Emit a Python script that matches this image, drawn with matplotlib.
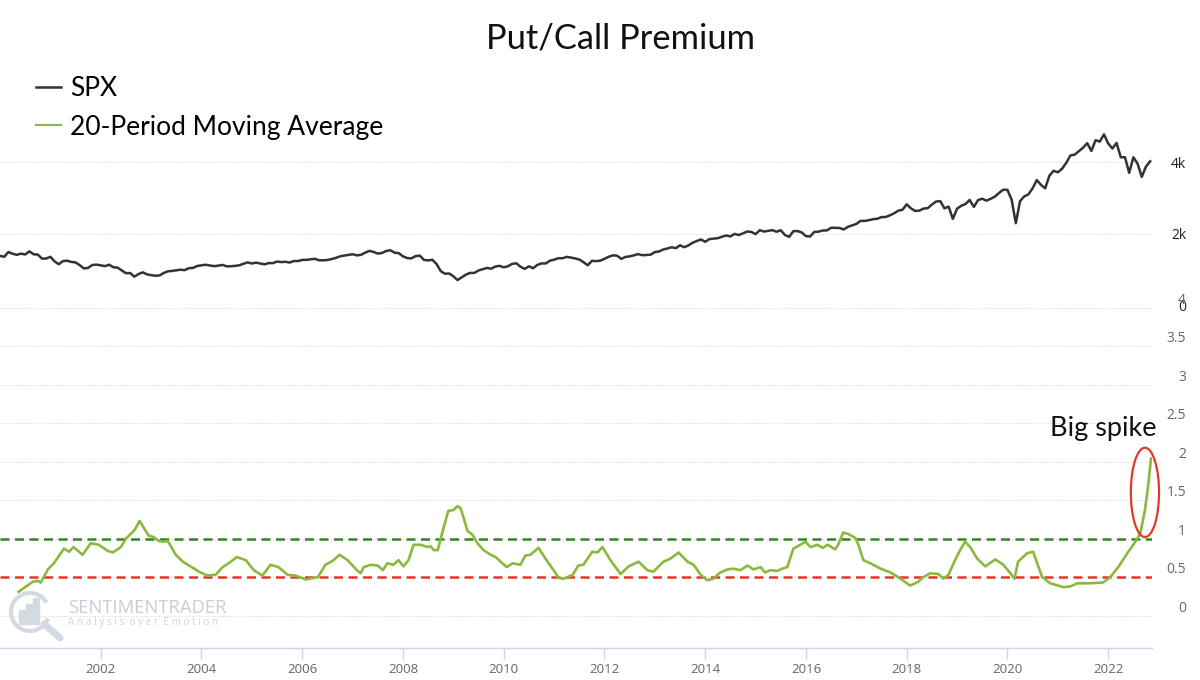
import numpy as np
import matplotlib
matplotlib.use("Agg")
import matplotlib.pyplot as plt
from matplotlib.patches import Ellipse, Arc, Rectangle
from matplotlib.lines import Line2D

plt.rcParams['font.family'] = ['Lato', 'DejaVu Sans']

# SPX, roughly one value per month, Jan 2000 .. Nov 2022
spx_values = [
    1394, 1366, 1499, 1452, 1421, 1455, 1431, 1518, 1437, 1429, 1315, 1320,
    1366, 1240, 1160, 1249, 1256, 1224, 1211, 1134, 1041, 1060, 1139, 1148,
    1130, 1107, 1147, 1077, 1067, 990, 912, 916, 815, 886, 936, 880,
    856, 841, 848, 917, 964, 975, 990, 1008, 996, 1051, 1058, 1112,
    1131, 1145, 1126, 1107, 1121, 1141, 1102, 1104, 1115, 1130, 1174, 1212,
    1181, 1204, 1181, 1157, 1192, 1191, 1234, 1220, 1229, 1207, 1249, 1248,
    1280, 1281, 1295, 1311, 1270, 1270, 1277, 1304, 1336, 1378, 1401, 1418,
    1438, 1407, 1421, 1482, 1531, 1503, 1455, 1474, 1527, 1549, 1481, 1468,
    1379, 1331, 1323, 1386, 1400, 1280, 1267, 1283, 1166, 969, 896, 903,
    826, 720, 798, 873, 919, 919, 987, 1021, 1057, 1036, 1096, 1115,
    1074, 1104, 1169, 1187, 1089, 1031, 1102, 1049, 1141, 1183, 1181, 1258,
    1286, 1327, 1326, 1364, 1345, 1321, 1292, 1219, 1131, 1253, 1247, 1258,
    1312, 1366, 1408, 1398, 1310, 1362, 1379, 1407, 1441, 1412, 1416, 1426,
    1498, 1515, 1569, 1598, 1631, 1606, 1686, 1633, 1682, 1757, 1806, 1848,
    1783, 1859, 1872, 1884, 1924, 1960, 1931, 2003, 1972, 2018, 2068, 2059,
    1995, 2105, 2068, 2086, 2107, 2063, 2104, 1972, 1920, 2079, 2080, 2044,
    1940, 1932, 2060, 2065, 2097, 2099, 2174, 2171, 2168, 2126, 2199, 2239,
    2279, 2364, 2363, 2384, 2412, 2423, 2470, 2472, 2519, 2575, 2648, 2674,
    2824, 2714, 2641, 2648, 2705, 2718, 2816, 2902, 2914, 2712, 2760, 2420,
    2704, 2784, 2834, 2946, 2752, 2942, 2980, 2926, 2977, 3038, 3141, 3231,
    3226, 2954, 2300, 2912, 3044, 3100, 3271, 3500, 3363, 3270, 3622, 3756,
    3714, 3811, 3973, 4181, 4204, 4298, 4395, 4523, 4308, 4605, 4567, 4766,
    4516, 4374, 4530, 4132, 4132, 3700, 4130, 3955, 3586, 3872, 4020,
]
spx_years = 2000 + np.arange(len(spx_values)) / 12

# 20-period moving average of the put/call premium
ma_years = [
    2000.37, 2000.65, 2000.75, 2000.81, 2000.95, 2001.07, 2001.27, 2001.37, 2001.46, 2001.64,
    2001.80, 2001.96, 2002.14, 2002.24, 2002.40, 2002.50, 2002.64, 2002.69, 2002.77, 2002.95,
    2003.05, 2003.15, 2003.25, 2003.33, 2003.49, 2003.63, 2003.83, 2003.98, 2004.12, 2004.28,
    2004.42, 2004.54, 2004.70, 2004.88, 2005.04, 2005.21, 2005.37, 2005.53, 2005.71, 2005.87,
    2006.07, 2006.31, 2006.46, 2006.60, 2006.74, 2006.90, 2007.10, 2007.16, 2007.22, 2007.36,
    2007.50, 2007.60, 2007.69, 2007.81, 2007.91, 2008.01, 2008.11, 2008.21, 2008.35, 2008.49,
    2008.55, 2008.61, 2008.69, 2008.81, 2008.90, 2009.00, 2009.08, 2009.14, 2009.20, 2009.28,
    2009.38, 2009.48, 2009.60, 2009.74, 2009.84, 2009.94, 2010.06, 2010.18, 2010.33, 2010.43,
    2010.53, 2010.69, 2010.87, 2010.99, 2011.09, 2011.19, 2011.37, 2011.48, 2011.58, 2011.76,
    2011.86, 2011.96, 2012.12, 2012.32, 2012.48, 2012.68, 2012.85, 2012.97, 2013.17, 2013.31,
    2013.47, 2013.65, 2013.77, 2013.91, 2014.04, 2014.16, 2014.30, 2014.44, 2014.56, 2014.70,
    2014.84, 2014.96, 2015.10, 2015.19, 2015.29, 2015.43, 2015.53, 2015.63, 2015.75, 2015.89,
    2015.99, 2016.09, 2016.23, 2016.33, 2016.43, 2016.58, 2016.64, 2016.74, 2016.84, 2016.98,
    2017.04, 2017.14, 2017.28, 2017.48, 2017.68, 2017.83, 2018.07, 2018.23, 2018.33, 2018.47,
    2018.63, 2018.73, 2018.83, 2018.93, 2019.06, 2019.16, 2019.26, 2019.40, 2019.56, 2019.76,
    2019.92, 2020.06, 2020.14, 2020.21, 2020.39, 2020.51, 2020.59, 2020.69, 2020.85, 2021.11,
    2021.25, 2021.39, 2021.64, 2021.90, 2022.04, 2022.20, 2022.38, 2022.54, 2022.64, 2022.73,
    2022.79, 2022.85,
]
ma_values = [
    0.31, 0.44, 0.45, 0.43, 0.60, 0.68, 0.87, 0.83, 0.89, 0.79,
    0.94, 0.92, 0.84, 0.82, 0.89, 1.00, 1.09, 1.13, 1.23, 1.04,
    1.02, 0.97, 0.96, 0.97, 0.79, 0.70, 0.62, 0.56, 0.52, 0.53,
    0.63, 0.68, 0.76, 0.72, 0.59, 0.52, 0.66, 0.63, 0.53, 0.52,
    0.47, 0.50, 0.66, 0.71, 0.79, 0.72, 0.58, 0.55, 0.63, 0.66,
    0.65, 0.59, 0.68, 0.66, 0.72, 0.64, 0.72, 0.92, 0.92, 0.89,
    0.90, 0.85, 0.85, 1.15, 1.36, 1.37, 1.42, 1.40, 1.28, 1.10,
    1.05, 0.94, 0.85, 0.79, 0.76, 0.70, 0.63, 0.68, 0.66, 0.78,
    0.79, 0.88, 0.70, 0.59, 0.49, 0.48, 0.53, 0.65, 0.66, 0.83,
    0.82, 0.89, 0.72, 0.54, 0.64, 0.70, 0.59, 0.57, 0.70, 0.74,
    0.82, 0.70, 0.66, 0.53, 0.46, 0.48, 0.56, 0.60, 0.61, 0.59,
    0.65, 0.60, 0.63, 0.56, 0.59, 0.58, 0.61, 0.63, 0.87, 0.92,
    0.96, 0.89, 0.92, 0.88, 0.92, 0.86, 0.92, 1.08, 1.06, 1.01,
    0.92, 0.72, 0.68, 0.61, 0.56, 0.50, 0.39, 0.44, 0.50, 0.55,
    0.54, 0.48, 0.53, 0.68, 0.85, 0.96, 0.89, 0.74, 0.64, 0.73,
    0.66, 0.55, 0.48, 0.70, 0.81, 0.83, 0.68, 0.50, 0.42, 0.37,
    0.38, 0.42, 0.42, 0.43, 0.50, 0.63, 0.81, 0.96, 1.07, 1.37,
    1.67, 2.04,
]
upper_level = 1.0
lower_level = 0.5

spx_ticks = [0, 2000, 4000]
spx_tick_labels = ['0', '2k', '4k']
pc_ticks = [0, 0.5, 1, 1.5, 2, 2.5, 3, 3.5, 4]
pc_tick_labels = ['0', '0.5', '1', '1.5', '2', '2.5', '3', '3.5', '4']
year_ticks = list(range(2002, 2023, 2))

W, H = 1200, 680


def box(left, top, right, bottom):
    # pixel box -> figure fraction
    return [left / W, 1 - bottom / H, (right - left) / W, (bottom - top) / H]


fig = plt.figure(figsize=(12, 6.8), dpi=100)
fig.patch.set_facecolor('white')

# watermark logo (behind the data)
deco = fig.add_axes([0, 0, 1, 1], zorder=0)
deco.set_xlim(0, W)
deco.set_ylim(H, 0)
deco.axis('off')
wm = '#d3dae2'
deco.add_patch(Arc((30, 612), 38, 38, theta1=20, theta2=330, color=wm, lw=3))
for bx, bh in [(19, 14), (26, 20), (33, 26)]:
    deco.add_patch(Rectangle((bx, 624 - bh), 5.5, bh, color=wm))
deco.plot([44, 60], [624, 638], color=wm, lw=5, solid_capstyle='round')
deco.text(68, 608, 'SENTIMENTRADER', fontsize=13.3, color='#c5ced8', va='center',
          family=['Open Sans', 'DejaVu Sans'])
deco.text(68, 623, 'A n a l y s i s  o v e r  E m o t i o n', fontsize=7.2, color='#ccd4dd',
          va='center', family=['Open Sans', 'DejaVu Sans'])

grid_kw = dict(color='#d9d9d9', ls=(0, (1, 1.5)), lw=0.8)

# ---- top panel: SPX
ax_top = fig.add_axes(box(0, 126, 1152, 306), zorder=2)
ax_top.set_facecolor('none')
spx_line, = ax_top.plot(spx_years, spx_values, color='#333333', lw=1.8)
ax_top.set_xlim(2000, 2022.87)
ax_top.set_ylim(0, 5000)
ax_top.set_yticks(spx_ticks)
ax_top.set_yticklabels(spx_tick_labels)
ax_top.yaxis.tick_right()
ax_top.tick_params(axis='y', length=0, pad=24.5, labelsize=10, labelcolor='#222222')
for t in ax_top.yaxis.get_major_ticks():
    t.label2.set_ha('right')
    t.label2.set_family(['Open Sans', 'DejaVu Sans'])
ax_top.set_xticks([])
ax_top.grid(axis='y', **grid_kw)
for s in ax_top.spines.values():
    s.set_visible(False)

# ---- bottom panel: put/call premium
ax_bot = fig.add_axes(box(0, 307.5, 1152, 648), zorder=2)
ax_bot.set_facecolor('none')
ma_line, = ax_bot.plot(ma_years, ma_values, color='#8cb83e', lw=1.9, zorder=4)
ax_bot.axhline(upper_level, color='#2d8a1e', lw=1.8, ls=(0, (3.6, 2.2)), zorder=3)
ax_bot.axhline(lower_level, color='#e8352b', lw=1.8, ls=(0, (3.6, 2.2)), zorder=3)
ax_bot.set_xlim(2000, 2022.87)
ax_bot.set_ylim(-0.42, 4.0)
ax_bot.set_yticks(pc_ticks)
ax_bot.set_yticklabels(pc_tick_labels)
ax_bot.yaxis.tick_right()
ax_bot.tick_params(axis='y', length=0, pad=24.5, labelsize=10, labelcolor='#666666')
for t in ax_bot.yaxis.get_major_ticks():
    t.label2.set_ha('right')
    t.label2.set_va('bottom')
    t.label2.set_family(['Open Sans', 'DejaVu Sans'])
ax_bot.set_xticks(year_ticks)
ax_bot.set_xticklabels([str(y) for y in year_ticks])
ax_bot.tick_params(axis='x', length=8, width=1, color='#ccd6eb', labelcolor='#666666',
                   labelsize=9.5, pad=3)
for t in ax_bot.xaxis.get_major_ticks():
    t.label1.set_family(['Open Sans', 'DejaVu Sans'])
ax_bot.grid(axis='y', **grid_kw)
for name, s in ax_bot.spines.items():
    s.set_visible(name == 'bottom')
ax_bot.spines['bottom'].set_color('#ccd6eb')
ax_bot.spines['bottom'].set_linewidth(1)

ax_bot.add_patch(Ellipse((2022.73, 1.60), width=0.56, height=1.16, fill=False,
                         ec='#e03a2a', lw=1.6, clip_on=False, zorder=5))
ax_bot.text(2021.9, 2.33, 'Big spike', ha='center', va='baseline', fontsize=19.5, color='#111111')

fig.text(620 / W, 1 - 39 / H, 'Put/Call Premium', ha='center', va='center',
         fontsize=24.8, color='#111111')

fig.legend(handles=[spx_line, Line2D([], [], color='#8cb83e', lw=1.5)],
           labels=['SPX', '20-Period Moving Average'],
           loc='upper left', bbox_to_anchor=(36 / W, 1 - 76 / H), frameon=False,
           fontsize=19, handlelength=0.95, handletextpad=0.34, labelspacing=0.52,
           borderaxespad=0, borderpad=0)

fig.savefig('out.png', dpi=100, facecolor='white')
